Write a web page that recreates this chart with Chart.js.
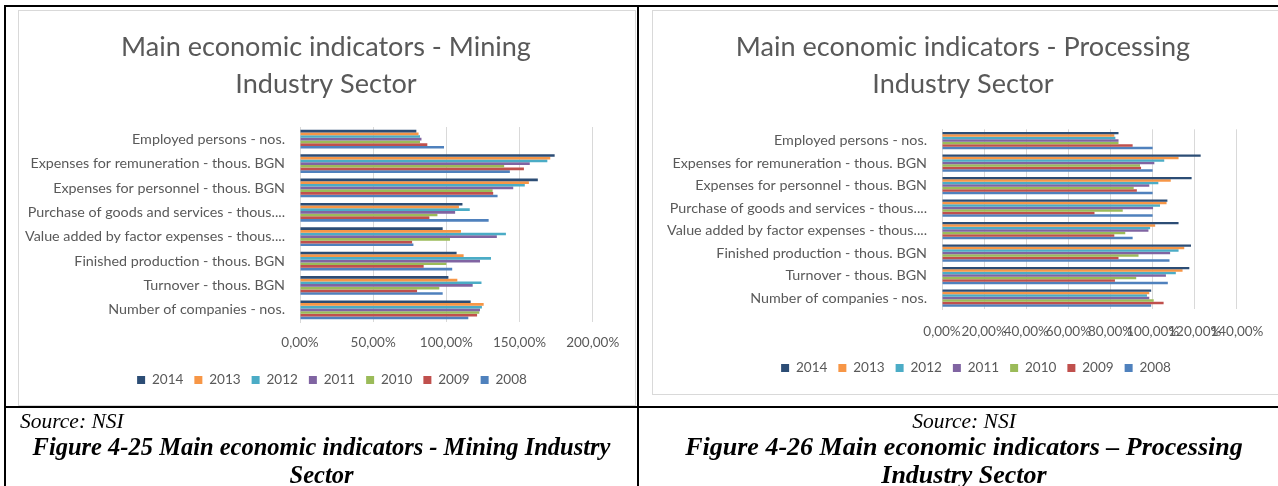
<!DOCTYPE html>
<html><head><meta charset="utf-8">
<script src="https://cdn.jsdelivr.net/npm/chart.js@4.4.1/dist/chart.umd.min.js"></script>
<style>
html,body{margin:0;padding:0;background:#fff;}
body{width:1278px;height:486px;overflow:hidden;position:relative;}
.ln{position:absolute;background:#000;}
.frame{position:absolute;border:1px solid #d9d9d9;box-sizing:border-box;background:#fff;}
canvas{position:absolute;}
.cap{position:absolute;font-family:"Liberation Serif","Times New Roman",serif;color:#000;white-space:nowrap;}
</style></head><body>
<div class="frame" style="left:18px;top:10px;width:618px;height:396px"></div>
<div class="frame" style="left:652px;top:10px;width:640px;height:385px"></div>
<div class="ln" style="left:4px;top:5px;width:1274px;height:2px"></div>
<div class="ln" style="left:4px;top:5px;width:2px;height:481px"></div>
<div class="ln" style="left:637px;top:5px;width:2px;height:481px"></div>
<div class="ln" style="left:4px;top:406px;width:1274px;height:2px"></div>
<canvas id="c1"></canvas>
<canvas id="c2"></canvas>
<div class="cap" style="left:20px;top:408px;font-style:italic;font-size:21.5px;line-height:27px">Source: NSI</div>
<div class="cap" style="left:6px;width:631px;top:433px;text-align:center;font-style:italic;font-weight:bold;font-size:24.5px;line-height:28px">Figure 4-25 Main economic indicators - Mining Industry<br>Sector</div>
<div class="cap" style="left:639px;width:650px;top:408px;text-align:center;font-style:italic;font-size:21.5px;line-height:27px">Source: NSI</div>
<div class="cap" style="left:639px;width:650px;top:433px;text-align:center;font-style:italic;font-weight:bold;font-size:26px;line-height:28px">Figure 4-26 Main economic indicators – Processing<br>Industry Sector</div>
<script>
// ---------- data ----------
const categories = [
  "Employed persons - nos.",
  "Expenses for remuneration - thous. BGN",
  "Expenses for personnel - thous. BGN",
  "Purchase of goods and services - thous....",
  "Value added by factor expenses - thous....",
  "Finished production - thous. BGN",
  "Turnover - thous. BGN",
  "Number of companies - nos."
];
const years = ["2014","2013","2012","2011","2010","2009","2008"];
const yearColors = ["#2C4D75","#F79646","#4BACC6","#8064A2","#9BBB59","#C0504D","#4F81BD"];

const mining2014 = [79.5, 174, 162.5, 111, 97.5, 107, 101.4, 116.6];
const mining2013 = [81, 171, 156.4, 108.6, 110, 111.8, 107.5, 125.5];
const mining2012 = [82, 169, 153.6, 116, 140.7, 130.5, 124, 124.3];
const mining2011 = [83, 157, 145.7, 106, 134.5, 123, 118, 123];
const mining2010 = [82, 139.5, 131.6, 93.9, 102.5, 100, 95.2, 122.5];
const mining2009 = [87, 153, 132, 88.4, 76.6, 84.5, 80, 121];
const mining2008 = [98.4, 143.4, 135, 128.9, 77.5, 104, 97.5, 115];

const processing2014 = [83.8, 122.8, 118.5, 107, 112.3, 118.2, 117.4, 99.3];
const processing2013 = [81.8, 112.3, 108.6, 106.6, 101.2, 115, 114.2, 98.4];
const processing2012 = [82.3, 105.5, 102.7, 103.5, 98.8, 112.3, 111, 97.3];
const processing2011 = [83.8, 100.8, 98.4, 100.2, 98, 108.3, 106.3, 98.4];
const processing2010 = [83.8, 94, 91, 85.8, 87, 93.3, 92.2, 100.5];
const processing2009 = [90.5, 94.5, 92.5, 72.4, 81.8, 83.8, 82.1, 105.2];
const processing2008 = [100, 100, 100, 100, 90.5, 108, 107.2, 99.3];

const miningTitle = ["Main economic indicators - Mining", "Industry Sector"];
const processingTitle = ["Main economic indicators - Processing", "Industry Sector"];
const miningAxisMax = 200, miningAxisStep = 50;
const processingAxisMax = 140, processingAxisStep = 20;

// ---------- styling / layout ----------
const FAM = 'Lato, "Open Sans", sans-serif';
const meas = document.createElement('canvas').getContext('2d');
function fitPx(text, target){ meas.font = '100px ' + FAM; return 100 * target / meas.measureText(text).width; }
const titlePx = fitPx("Main economic indicators - Mining", 410);
const labelPx = fitPx("Employed persons - nos.", 153);
const tickPx = fitPx("200,00%", 53);
const legendPx = fitPx("2014", 31.5);
const TXT = '#595959';
const pct = v => Number(v).toFixed(2).replace('.', ',') + '%';

const centerBoxes = {
  id: 'centerBoxes',
  afterLayout(chart, args, o) {
    const t = chart.titleBlock, l = chart.legend;
    if (t && o.titleCx != null) { const dx = o.titleCx - o.cx - (t.left + t.right) / 2; t.left += dx; t.right += dx; }
    if (l && o.legendCx != null) { const dx = o.legendCx - o.cx - (l.left + l.right) / 2; l.left += dx; l.right += dx; }
  }
};

function build(id, g, titleLines, series, xmax, step) {
  const cv = document.getElementById(id);
  cv.width = g.cw; cv.height = g.ch;
  cv.style.left = g.cx + 'px'; cv.style.top = g.cy + 'px';
  const TLH = 37;
  const pt = g.t1 - g.cy - TLH / 2;
  const pb = g.plotT - g.cy - pt - 2 * TLH;
  const P = 11;
  const lpb = g.cy + g.ch - g.legY - legendPx / 2 - 10;
  const legendH = legendPx + P + 10;
  const legendTop = g.cy + g.ch - lpb - legendH;
  const axisH = legendTop - g.plotB;
  const tickPad = g.tickY - g.plotB - 1.2 * tickPx / 2;
  new Chart(cv, {
    type: 'bar',
    data: {
      labels: categories,
      datasets: years.map((y, i) => ({
        label: y, data: series[i], backgroundColor: yearColors[i], borderWidth: 0,
        barPercentage: 1, categoryPercentage: 0.77
      }))
    },
    options: {
      indexAxis: 'y', responsive: false, animation: false,
      layout: { padding: { top: 0, left: 0, right: g.cx + g.cw - g.plotR, bottom: lpb } },
      plugins: {
        title: { display: true, text: titleLines, color: TXT,
          font: { family: FAM, size: titlePx, weight: 'normal', lineHeight: TLH + 'px' },
          padding: { top: pt, bottom: pb } },
        legend: { position: 'bottom',
          labels: { color: TXT, boxWidth: 8, boxHeight: 8, padding: P, font: { family: FAM, size: legendPx } } },
        tooltip: { enabled: false },
        centerBoxes: { cx: g.cx, titleCx: g.titleCx, legendCx: g.legendCx }
      },
      scales: {
        x: { min: 0, max: xmax,
          ticks: { stepSize: step, callback: v => pct(v), color: TXT, autoSkip: false, maxRotation: 0, minRotation: 0,
            padding: tickPad, font: { family: FAM, size: tickPx } },
          grid: { color: '#D9D9D9', lineWidth: 1, drawTicks: false },
          border: { display: false },
          afterFit: s => { s.height = axisH; } },
        y: { ticks: { color: TXT, autoSkip: false, padding: 15, font: { family: FAM, size: labelPx } },
          grid: { display: false, drawTicks: false },
          border: { display: true, color: '#D9D9D9' },
          afterFit: s => { s.width = g.plotL - g.cx; } }
      }
    },
    plugins: [centerBoxes]
  });
}

build('c1', { cx: 18, cy: 11, cw: 616, ch: 414, plotL: 300, plotR: 592.7, plotT: 127, plotB: 322,
  t1: 47, tickY: 343, legY: 380, titleCx: 326, legendCx: 332 },
  miningTitle, [mining2014, mining2013, mining2012, mining2011, mining2010, mining2009, mining2008],
  miningAxisMax, miningAxisStep);

build('c2', { cx: 653, cy: 11, cw: 625, ch: 403, plotL: 942, plotR: 1244, plotT: 129.3, plotB: 309.3,
  t1: 47, tickY: 332, legY: 368, titleCx: 963, legendCx: 976 },
  processingTitle, [processing2014, processing2013, processing2012, processing2011, processing2010, processing2009, processing2008],
  processingAxisMax, processingAxisStep);
</script>
</body></html>
